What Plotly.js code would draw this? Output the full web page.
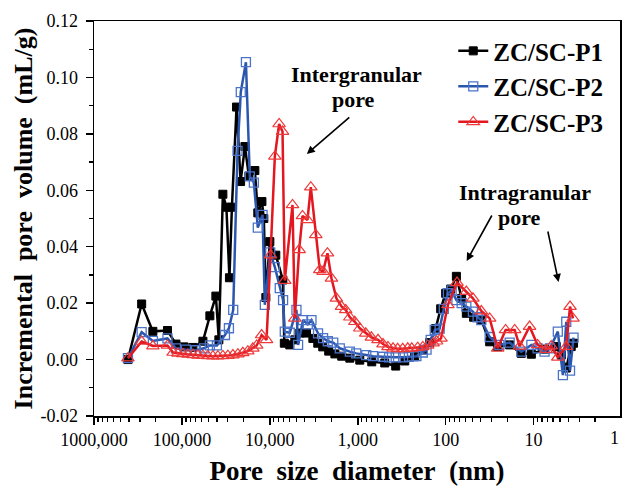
<!DOCTYPE html>
<html><head><meta charset="utf-8">
<script src="https://cdn.plot.ly/plotly-3.0.1.min.js"></script>
<style>html,body{margin:0;padding:0;background:#fff}#chart{width:622px;height:486px}</style>
</head><body><div id="chart"></div>
<script>
const seriesNames = ["ZC/SC-P1", "ZC/SC-P2", "ZC/SC-P3"];

const p1Size = [411000, 287000, 214000, 146000, 117000, 94800, 75000, 57700, 48100, 41100, 38000, 34200, 31200, 28800, 27000, 23900, 21500, 19200, 17300, 14800, 13700, 12300, 11700, 11100, 10000, 8550, 7110, 6840, 5930, 5200, 4560, 3830, 3240, 2850, 2500, 2140, 1820, 1520, 1230, 948, 693, 493, 370, 292, 225, 182, 152, 130, 114, 100, 87.7, 75.5, 65.8, 58.2, 48.1, 39.3, 31.6, 25.6, 18.7, 13.8, 10.6, 7.5, 5.52, 4.84, 4.25, 3.73, 3.51];
const p1Vol = [0.0000, 0.0197, 0.0100, 0.0103, 0.0055, 0.0045, 0.0043, 0.0065, 0.0155, 0.0225, 0.0070, 0.0586, 0.0540, 0.0290, 0.0540, 0.0895, 0.0631, 0.0755, 0.0650, 0.0670, 0.0520, 0.0560, 0.0500, 0.0220, 0.0418, 0.0370, 0.0282, 0.0058, 0.0052, 0.0070, 0.0094, 0.0094, 0.0075, 0.0058, 0.0045, 0.0030, 0.0020, 0.0012, 0.0005, -0.0002, -0.0008, -0.0012, -0.0023, -0.0005, 0.0010, 0.0034, 0.0060, 0.0110, 0.0180, 0.0235, 0.0250, 0.0295, 0.0217, 0.0164, 0.0150, 0.0140, 0.0063, 0.0046, 0.0052, 0.0022, 0.0019, 0.0037, 0.0046, 0.0016, -0.0030, 0.0046, 0.0058];

const p2Size = [411000, 287000, 214000, 146000, 117000, 90200, 69300, 56200, 48100, 40000, 32400, 29200, 26100, 23300, 21400, 18700, 16900, 15200, 13700, 12100, 11400, 9900, 8770, 7710, 7070, 6760, 5930, 4980, 4770, 4190, 3700, 3360, 2830, 2480, 2190, 1900, 1600, 1230, 1040, 800, 670, 516, 440, 370, 305, 262, 215, 182, 165, 148, 133, 117, 105, 94.2, 85.5, 75.5, 65.8, 58.2, 49.0, 43.3, 39.3, 31.6, 24.5, 18.7, 13.8, 10.6, 9.0, 7.5, 6.5, 5.3, 4.64, 4.25, 3.85, 3.51];
const p2Vol = [0.0005, 0.0097, 0.0066, 0.0075, 0.0040, 0.0035, 0.0033, 0.0040, 0.0050, 0.0050, 0.0087, 0.0111, 0.0176, 0.0740, 0.0948, 0.1054, 0.0649, 0.0627, 0.0468, 0.0513, 0.0194, 0.0380, 0.0328, 0.0253, 0.0211, 0.0099, 0.0095, 0.0176, 0.0052, 0.0140, 0.0125, 0.0140, 0.0093, 0.0076, 0.0065, 0.0060, 0.0040, 0.0028, 0.0022, 0.0016, 0.0012, 0.0010, 0.0008, 0.0008, 0.0008, 0.0010, 0.0012, 0.0025, 0.0035, 0.0070, 0.0105, 0.0110, 0.0180, 0.0235, 0.0245, 0.0211, 0.0200, 0.0188, 0.0170, 0.0150, 0.0140, 0.0080, 0.0052, 0.0060, 0.0028, 0.0052, 0.0040, 0.0028, 0.0040, 0.0099, -0.0055, 0.0134, -0.0039, 0.0078];

const p3Size = [411000, 287000, 214000, 146000, 126000, 111000, 97500, 85500, 75000, 65800, 57700, 50700, 44400, 39000, 34200, 30000, 26300, 23100, 20300, 17800, 15600, 14100, 12400, 10900, 9820, 8770, 7840, 7170, 6760, 5520, 5200, 4640, 4250, 3730, 3420, 3000, 2700, 2480, 2210, 1990, 1750, 1530, 1370, 1230, 1080, 948, 811, 700, 588, 516, 453, 397, 352, 308, 270, 243, 208, 182, 160, 139, 127, 113, 94.2, 74.3, 58.2, 49.0, 39.3, 31.6, 25.6, 20.8, 16.4, 14.4, 11.1, 9.0, 7.2, 6.3, 5.3, 4.25, 3.85, 3.56];
const p3Vol = [0.0005, 0.0064, 0.0048, 0.0050, 0.0025, 0.0022, 0.0020, 0.0018, 0.0017, 0.0015, 0.0014, 0.0013, 0.0012, 0.0012, 0.0013, 0.0014, 0.0016, 0.0019, 0.0024, 0.0030, 0.0040, 0.0050, 0.0087, 0.0070, 0.0370, 0.0720, 0.0835, 0.0808, 0.0280, 0.0548, 0.0146, 0.0389, 0.0509, 0.0495, 0.0611, 0.0442, 0.0318, 0.0312, 0.0377, 0.0288, 0.0217, 0.0188, 0.0176, 0.0150, 0.0134, 0.0111, 0.0093, 0.0079, 0.0070, 0.0055, 0.0045, 0.0040, 0.0038, 0.0038, 0.0040, 0.0040, 0.0042, 0.0045, 0.0050, 0.0058, 0.0065, 0.0075, 0.0194, 0.0273, 0.0241, 0.0217, 0.0172, 0.0146, 0.0040, 0.0105, 0.0105, 0.0047, 0.0117, 0.0052, 0.0035, 0.0048, 0.0008, 0.0046, 0.0188, 0.0146];

const xTickVals = [1000000, 100000, 10000, 1000, 100, 10];
const xTickText = ["1000,000", "100,000", "10,000", "1,000", "100", "10"];
const xEdgeLabel = "1";
const yTickVals = [-0.02, 0, 0.02, 0.04, 0.06, 0.08, 0.10, 0.12];
const yTickText = ["-0.02", "0.00", "0.02", "0.04", "0.06", "0.08", "0.10", "0.12"];

const SERIF = "Liberation Serif, Times New Roman, serif";
const colors = ["#000000", "#2b56ad", "#e2171f"];

const traces = [
  {x: p1Size, y: p1Vol, name: seriesNames[0], type: "scatter", mode: "lines+markers",
   line: {color: colors[0], width: 2.5},
   marker: {symbol: "square", size: 8, color: colors[0], line: {color: colors[0], width: 1}}},
  {x: p2Size, y: p2Vol, name: seriesNames[1], type: "scatter", mode: "lines+markers",
   line: {color: colors[1], width: 2.5},
   marker: {symbol: "square-open", size: 9, color: "#4b74c9", line: {width: 1.3}}},
  {x: p3Size, y: p3Vol, name: seriesNames[2], type: "scatter", mode: "lines+markers",
   line: {color: colors[2], width: 2.5},
   marker: {symbol: "triangle-up-open", size: 11, color: "#ee3a3a", line: {width: 1.2}}}
];

const axisCommon = {
  showline: true, linecolor: "#000", linewidth: 1.5, mirror: true,
  ticks: "outside", ticklen: 7, tickwidth: 1.5, tickcolor: "#000",
  showgrid: false, zeroline: false,
  tickfont: {family: SERIF, size: 18, color: "#000"}
};

const annFont = {family: SERIF, size: 22, color: "#000"};
const txt = (x, y, t) => ({xref: "paper", yref: "paper", x: x, y: y, text: t, showarrow: false,
  xanchor: "center", yanchor: "middle", font: annFont});
const arrow = (x, y, ax, ay) => ({xref: "paper", yref: "paper", x: x, y: y, ax: ax, ay: ay, text: "",
  showarrow: true, arrowhead: 2, arrowsize: 1, arrowwidth: 1.6, arrowcolor: "#000"});

const layout = {
  width: 622, height: 486,
  margin: {l: 94, r: 2, t: 21, b: 70},
  paper_bgcolor: "#fff", plot_bgcolor: "#fff",
  showlegend: true,
  legend: {x: 0.683, y: 0.982, xanchor: "left", yanchor: "top",
    font: {family: SERIF, size: 25, color: "#000", weight: "bold"},
    bgcolor: "rgba(0,0,0,0)", tracegroupgap: 0},
  xaxis: Object.assign({}, axisCommon, {
    type: "log", range: [6, 0.017],
    tickmode: "array", tickvals: xTickVals, ticktext: xTickText,
    minor: {ticks: "outside", ticklen: 4, tickwidth: 1.2, tickcolor: "#000", dtick: "D1"},
    title: {text: "<b>Pore&nbsp; size&nbsp; diameter&nbsp; (nm)</b>", font: {family: SERIF, size: 27, color: "#000"}, standoff: 27}
  }),
  yaxis: Object.assign({}, axisCommon, {
    range: [-0.02, 0.12],
    tickmode: "array", tickvals: yTickVals, ticktext: yTickText,
    ticklabelstandoff: 4,
    minor: {ticks: "outside", ticklen: 4, tickwidth: 1.2, tickcolor: "#000", dtick: 0.01},
    title: {text: "<b>Incremental&nbsp; pore&nbsp; volume&nbsp; (mL/g)</b>", font: {family: SERIF, size: 26, color: "#000"}, standoff: 0}
  }),
  annotations: [
    {xref: "paper", yref: "paper", x: 1.0, y: 0, yshift: -22, xshift: 1, xanchor: "right", yanchor: "middle",
     text: xEdgeLabel, showarrow: false, font: {family: SERIF, size: 18, color: "#000"}},
    txt(0.4995, 0.8633, "<b>Intergranular</b>"),
    txt(0.4938, 0.800, "<b>pore</b>"),
    txt(0.8186, 0.567, "<b>Intragranular</b>"),
    txt(0.8091, 0.5013, "<b>pore</b>"),
    arrow(0.4046, 0.6633, 44, -38),
    arrow(0.7085, 0.3924, 26, -47),
    arrow(0.8832, 0.3392, -11, -52)
  ]
};

Plotly.newPlot("chart", traces, layout, {displayModeBar: false, staticPlot: true});
</script></body></html>
